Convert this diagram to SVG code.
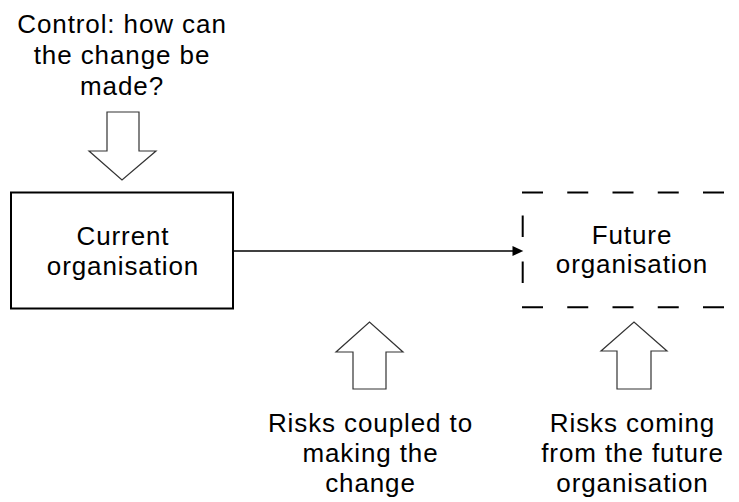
<svg xmlns="http://www.w3.org/2000/svg" width="739" height="502" viewBox="0 0 739 502">
<style>
text{font-family:"Liberation Sans",Arial,sans-serif;font-size:26px;letter-spacing:0.9px;fill:#000;text-anchor:middle}
.blk{fill:#fff;stroke:#000;stroke-width:2}
.dash{fill:none;stroke:#000;stroke-width:2}
.fat{fill:#fff;stroke:#333;stroke-width:1.2;stroke-linejoin:miter}
.conn{fill:none;stroke:#000;stroke-width:1.3}
</style>
<rect width="739" height="502" fill="#fff"/>
<g id="control">
<polygon class="fat" points="107,112 139,112 139,151 156,151 122,180 89,151 107,151"/>
<text x="122" y="33">Control: how can</text>
<text x="122" y="64">the change be</text>
<text x="122" y="95">made?</text>
</g>
<g id="current">
<rect class="blk" x="11" y="192.5" width="222" height="116"/>
<text x="123" y="245">Current</text>
<text x="123" y="275">organisation</text>
</g>
<g id="future">
<path class="dash" d="M522 192.5 H739 M522 307.3 H739" stroke-dasharray="21 24.25"/>
<path class="dash" d="M522.7 215.5 V237 M522.7 261.5 V283"/>
<text x="632" y="243.5">Future</text>
<text x="632" y="273">organisation</text>
</g>
<g id="risk-change">
<polygon class="fat" points="353,389 386,389 386,352 403,352 369.5,322 336,352 353,352"/>
<text x="370.5" y="432">Risks coupled to</text>
<text x="370.5" y="462">making the</text>
<text x="370.5" y="492">change</text>
</g>
<g id="risk-future">
<polygon class="fat" points="617,389 651,389 651,351 667,351 634,322 601,351 617,351"/>
<text x="632.5" y="432">Risks coming</text>
<text x="632.5" y="462">from the future</text>
<text x="632.5" y="492">organisation</text>
</g>
<g id="connectors">
<line class="conn" x1="234" y1="251" x2="514" y2="251"/>
<polygon points="512.5,246 523.3,251 512.5,256" fill="#000"/>
</g>
</svg>
